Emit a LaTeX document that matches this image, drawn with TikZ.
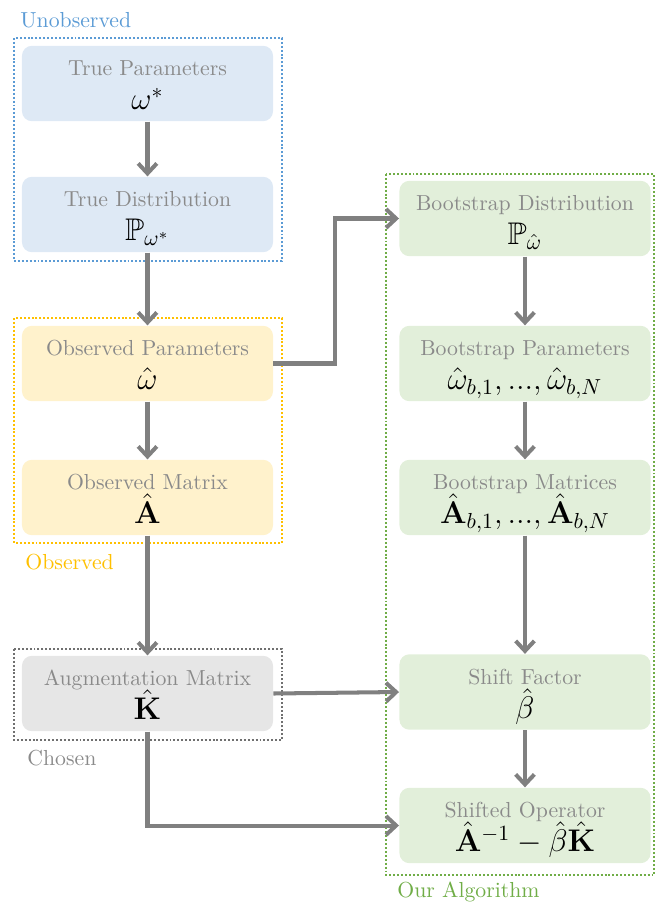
\documentclass[tikz,border=0pt]{standalone}
\usepackage{amsmath,amssymb}
\usetikzlibrary{arrows.meta}
\definecolor{txtgray}{HTML}{8A8A8A}
\definecolor{arrgray}{HTML}{808080}
\definecolor{bluefill}{HTML}{DEE9F5}
\definecolor{blueline}{HTML}{5B9BD5}
\definecolor{yelfill}{HTML}{FFF2CC}
\definecolor{yelline}{HTML}{FFC000}
\definecolor{grayfill}{HTML}{E6E6E6}
\definecolor{grayline}{HTML}{707070}
\definecolor{grnfill}{HTML}{E2EFDA}
\definecolor{grnline}{HTML}{70AD47}
\tikzset{
  box/.style={rounded corners=4.6pt, minimum width=115.5pt, minimum height=34.7pt, inner sep=0pt, draw=none},
  bluebox/.style={box, fill=bluefill},
  yelbox/.style={box, fill=yelfill},
  graybox/.style={box, fill=grayfill},
  grnbox/.style={box, fill=grnfill},
  lbl/.style={anchor=base, inner sep=0pt, text=txtgray},
  mth/.style={anchor=base, inner sep=0pt, font=\Large},
  frame/.style={line width=0.9pt, dash pattern=on 0.9pt off 0.9pt},
  flow/.style={draw=arrgray, line width=1.85pt, -{Straight Barb[length=4.6pt,width=8.6pt,line width=1.85pt]}},
  grouplabel/.style={anchor=west, inner sep=0pt, font=\normalsize},
}
\newcommand{\boxlabels}[3]{%
  \node[lbl] (#1l) at ([yshift=-14.0pt]#1.north) {#2};
  \node[mth] (#1m) at ([yshift=-29.7pt]#1.north) {$#3$};
}
\begin{document}
\begin{tikzpicture}[x=0.46pt,y=-0.46pt]
\useasboundingbox (0,0) rectangle (655,907);
% frames
\draw[frame, draw=blueline] (14,38) rectangle (282,261);
\draw[frame, draw=yelline] (14,318) rectangle (282,543);
\draw[frame, draw=grayline] (14,649) rectangle (282,740);
\draw[frame, draw=grnline] (386,174) rectangle (654,875);
% group labels
\node[grouplabel, text=blueline] (lunobs) at (20,20) {Unobserved};
\node[grouplabel, text=yelline] (lobs) at (25,562) {Observed};
\node[grouplabel, text=txtgray] (lchosen) at (27,758) {Chosen};
\node[grouplabel, text=grnline] (lalg) at (397,892) {Our Algorithm};
% left column
\node[bluebox] (TP) at (147.5,83.5) {};
\node[bluebox] (TD) at (147.5,214.5) {};
\node[yelbox] (OP) at (147.5,363.5) {};
\node[yelbox] (OM) at (147.5,497.5) {};
\node[graybox] (AM) at (147.5,693.5) {};
% right column
\node[grnbox] (BD) at (525,218.5) {};
\node[grnbox] (BP) at (525,363.5) {};
\node[grnbox] (BM) at (525,497.5) {};
\node[grnbox] (SF) at (525,692) {};
\node[grnbox] (SO) at (525,825.5) {};
% texts
\boxlabels{TP}{True Parameters}{\omega^*}
\boxlabels{TD}{True Distribution}{\mathbb{P}_{\omega^*}}
\boxlabels{OP}{Observed Parameters}{\hat{\omega}}
\boxlabels{OM}{Observed Matrix}{\hat{\mathbf{A}}}
\boxlabels{AM}{Augmentation Matrix}{\hat{\mathbf{K}}}
\boxlabels{BD}{Bootstrap Distribution}{\mathbb{P}_{\hat{\omega}}}
\boxlabels{BP}{Bootstrap Parameters}{\hat{\omega}_{b,1}, ..., \hat{\omega}_{b,N}}
\boxlabels{BM}{Bootstrap Matrices}{\hat{\mathbf{A}}_{b,1}, ..., \hat{\mathbf{A}}_{b,N}}
\boxlabels{SF}{Shift Factor}{\hat{\beta}}
\boxlabels{SO}{Shifted Operator}{\hat{\mathbf{A}}^{-1}-\hat{\beta}\hat{\mathbf{K}}}
% arrows
\draw[flow] (TP) -- (TD);
\draw[flow] (TD) -- (OP);
\draw[flow] (OP) -- (OM);
\draw[flow] (OM) -- (AM);
\draw[flow] (OP.east) -- ++(62,0) |- (BD.west);
\draw[flow] (AM.east) -- (SF.west);
\draw[flow] (AM.south) |- (SO.west);
\draw[flow] (BD) -- (BP);
\draw[flow] (BP) -- (BM);
\draw[flow] (BM) -- (SF);
\draw[flow] (SF) -- (SO);
\end{tikzpicture}
\end{document}
